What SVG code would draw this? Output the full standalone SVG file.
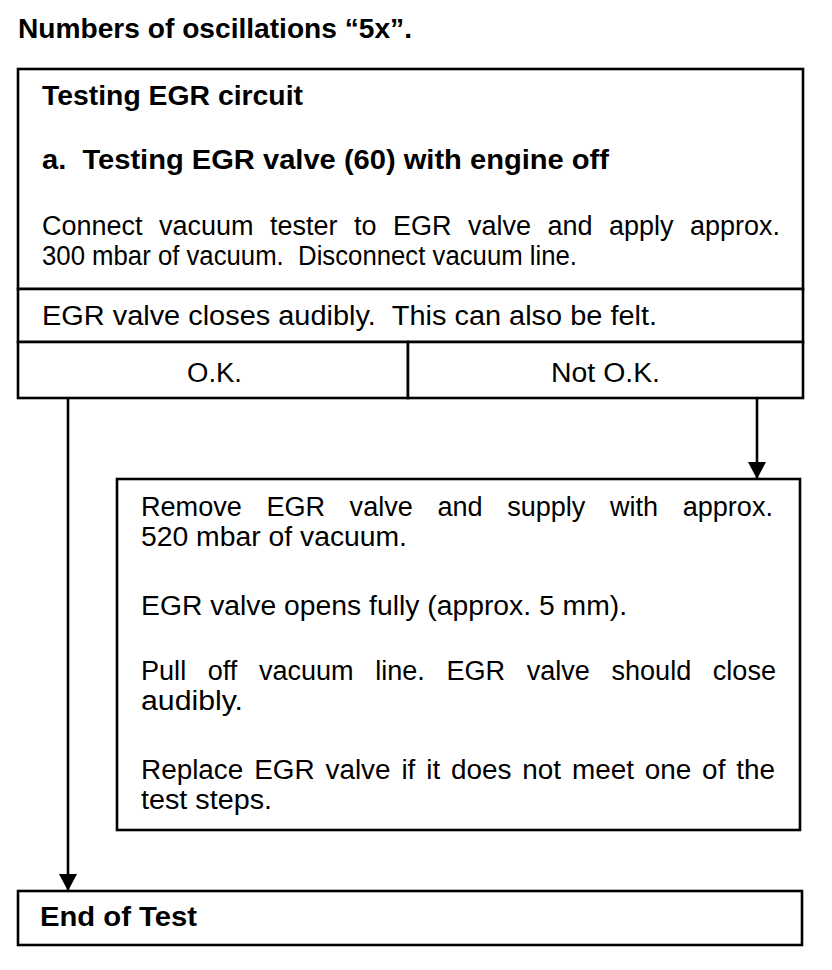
<svg xmlns="http://www.w3.org/2000/svg" width="832" height="970" viewBox="0 0 832 970">
<style>
.box{fill:#fff;stroke:#000;stroke-width:2.6}
.ln{stroke:#000;stroke-width:2.6;fill:none}
.t{font-family:"Liberation Sans",Arial,sans-serif;font-size:27px;fill:#000}
.b{font-weight:bold}
.c{text-anchor:middle}
</style>
<defs>
<marker id="arr" markerUnits="userSpaceOnUse" markerWidth="18" markerHeight="18" refX="17" refY="9" orient="auto">
<path d="M0,0 L17,9 L0,18 z" fill="#000"/>
</marker>
</defs>
<rect width="832" height="970" fill="#fff"/>
<text id="title" class="t b" x="18" y="38" textLength="394" lengthAdjust="spacingAndGlyphs">Numbers of oscillations “5x”.</text>
<g id="node-test">
<rect class="box" x="18" y="69" width="785" height="220"/>
<text class="t b" x="42" y="105" textLength="261" lengthAdjust="spacingAndGlyphs">Testing EGR circuit</text>
<text class="t b" x="42" y="169" textLength="567" lengthAdjust="spacingAndGlyphs">a. &#160;Testing EGR valve (60) with engine off</text>
<text class="t" x="42" y="235" word-spacing="9" textLength="738" lengthAdjust="spacingAndGlyphs">Connect vacuum tester to EGR valve and apply approx.</text>
<text class="t" x="42" y="265" textLength="535" lengthAdjust="spacingAndGlyphs">300 mbar of vacuum. &#160;Disconnect vacuum line.</text>
</g>
<g id="node-check">
<rect class="box" x="18" y="289" width="785" height="53"/>
<text class="t" x="42" y="325" textLength="615" lengthAdjust="spacingAndGlyphs">EGR valve closes audibly. &#160;This can also be felt.</text>
</g>
<g id="node-ok">
<rect class="box" x="18" y="342" width="390" height="56"/>
<text class="t" x="187" y="382" textLength="55" lengthAdjust="spacingAndGlyphs">O.K.</text>
</g>
<g id="node-notok">
<rect class="box" x="408" y="342" width="395" height="56"/>
<text class="t" x="551" y="382" textLength="109" lengthAdjust="spacingAndGlyphs">Not O.K.</text>
</g>
<g id="node-remove">
<rect class="box" x="117" y="479" width="683" height="351"/>
<text class="t" x="141" y="516" word-spacing="17" textLength="632" lengthAdjust="spacingAndGlyphs">Remove EGR valve and supply with approx.</text>
<text class="t" x="141" y="546" textLength="266" lengthAdjust="spacingAndGlyphs">520 mbar of vacuum.</text>
<text class="t" x="141" y="615" textLength="486" lengthAdjust="spacingAndGlyphs">EGR valve opens fully (approx. 5 mm).</text>
<text class="t" x="141" y="680" word-spacing="14" textLength="635" lengthAdjust="spacingAndGlyphs">Pull off vacuum line. EGR valve should close</text>
<text class="t" x="141" y="710" textLength="102" lengthAdjust="spacingAndGlyphs">audibly.</text>
<text class="t" x="141" y="779" word-spacing="3" textLength="634" lengthAdjust="spacingAndGlyphs">Replace EGR valve if it does not meet one of the</text>
<text class="t" x="141" y="809" textLength="131" lengthAdjust="spacingAndGlyphs">test steps.</text>
</g>
<g id="node-end">
<rect class="box" x="18" y="891" width="784" height="54"/>
<text class="t b" x="40" y="926" textLength="157" lengthAdjust="spacingAndGlyphs">End of Test</text>
</g>
<g id="connectors">
<line class="ln" x1="68" y1="398" x2="68" y2="891" marker-end="url(#arr)"/>
<line class="ln" x1="757" y1="398" x2="757" y2="479" marker-end="url(#arr)"/>
</g>
</svg>
